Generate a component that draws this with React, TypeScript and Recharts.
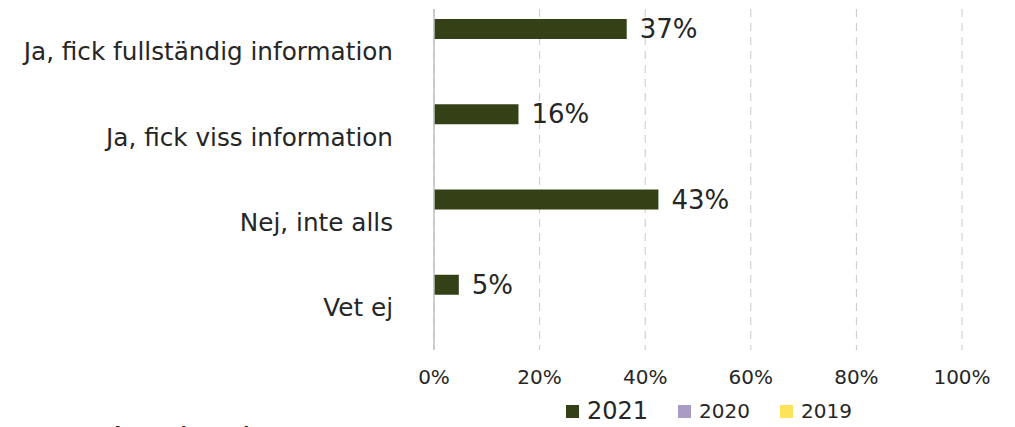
import { Bar, BarChart, CartesianGrid, LabelList, XAxis, YAxis } from "recharts";

const categories = [
  "Ja, fick fullständig information",
  "Ja, fick viss information",
  "Nej, inte alls",
  "Vet ej",
];
const values2021 = [36.5, 16, 42.5, 4.7];
const values2020: (number | null)[] = [null, null, null, null];
const values2019: (number | null)[] = [null, null, null, null];
const xTicks = [0, 20, 40, 60, 80, 100];

const data = categories.map((name, i) => ({
  name,
  y2021: values2021[i],
  y2020: values2020[i],
  y2019: values2019[i],
}));

const font = "Tahoma, 'DejaVu Sans', Verdana, sans-serif";

const legendItems = [
  { label: "2021", color: "#344117", size: 24 },
  { label: "2020", color: "#a99bc4", size: 20 },
  { label: "2019", color: "#fde35a", size: 20 },
];

export default function App() {
  return (
    <div style={{ position: "absolute", left: 0, top: 0, width: 1015, height: 427, overflow: "hidden", background: "#fff", fontFamily: font }}>
      <BarChart
        width={1015}
        height={427}
        data={data}
        layout="vertical"
        margin={{ top: 9, right: 53, left: 0, bottom: 0 }}
        barSize={20}
        barGap={2.3}
      >
        <CartesianGrid horizontal={false} stroke="#c8c8c8" strokeDasharray="8 6" />
        <XAxis
          type="number"
          domain={[0, 100]}
          ticks={xTicks}
          tickFormatter={(v) => `${v}%`}
          axisLine={false}
          tickLine={false}
          tickSize={0}
          tickMargin={20}
          height={77}
          tick={{ fill: "#262626", fontSize: 20, fontFamily: font }}
        />
        <YAxis
          type="category"
          dataKey="name"
          width={434}
          axisLine={{ stroke: "#c0c0c0", strokeWidth: 1.5 }}
          tickLine={false}
          tickSize={0}
          tickMargin={41}
          tick={{ fill: "#262626", fontSize: 24.7, fontFamily: font }}
        />
        <Bar dataKey="y2021" fill="#344117" isAnimationActive={false}>
          <LabelList
            dataKey="y2021"
            position="right"
            offset={13}
            formatter={(v: number) => `${Math.round(v)}%`}
            style={{ fill: "#262626", fontSize: 26, fontFamily: font }}
          />
        </Bar>
        <Bar dataKey="y2020" fill="#a99bc4" isAnimationActive={false} />
        <Bar dataKey="y2019" fill="#fde35a" isAnimationActive={false} />
      </BarChart>
      <div style={{ position: "absolute", left: 566, top: 397, display: "flex", alignItems: "center", color: "#262626" }}>
        {legendItems.map((it) => (
          <div key={it.label} style={{ display: "flex", alignItems: "center", marginRight: 30 }}>
            <span style={{ display: "inline-block", width: 13, height: 13, background: it.color, marginRight: 8 }} />
            <span style={{ fontSize: it.size }}>{it.label}</span>
          </div>
        ))}
      </div>
      <div style={{ position: "absolute", left: 45, top: 422, fontSize: 20, fontWeight: "bold", color: "#262626", whiteSpace: "nowrap" }}>
        Bas: Elever (2021)
      </div>
    </div>
  );
}
